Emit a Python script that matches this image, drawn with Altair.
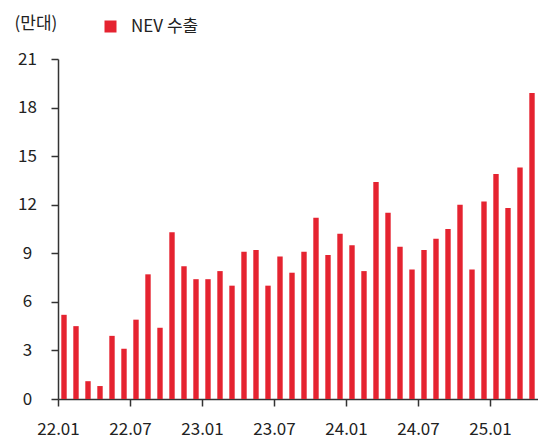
import altair as alt
import pandas as pd

months = [f"{y}.{m:02d}" for y in (22, 23, 24) for m in range(1, 13)] + ["25.01", "25.02", "25.03", "25.04"]
values = [5.2, 4.5, 1.1, 0.8, 3.9, 3.1, 4.9, 7.7, 4.4, 10.3, 8.2, 7.4,
          7.4, 7.9, 7.0, 9.1, 9.2, 7.0, 8.8, 7.8, 9.1, 11.2, 8.9, 10.2,
          9.5, 7.9, 13.4, 11.5, 9.4, 8.0, 9.2, 9.9, 10.5, 12.0, 8.0, 12.2,
          13.9, 11.8, 14.3, 18.9]
tick_labels = ["22.01", "22.07", "23.01", "23.07", "24.01", "24.07", "25.01"]
y_ticks = [0, 3, 6, 9, 12, 15, 18, 21]
series = "NEV 수출"

df = pd.DataFrame({"month": months, "value": values, "series": series})

FONT = "Noto Sans CJK KR"
AX = "#333333"

chart = alt.Chart(df).mark_bar(width=alt.RelativeBandSize(0.45)).encode(
    x=alt.X("month:O", sort=months,
            scale=alt.Scale(paddingInner=0, paddingOuter=0),
            axis=alt.Axis(values=tick_labels, title=None, labelAngle=0,
                          tickOffset=-6, tickSize=7, tickWidth=1.5, tickColor=AX,
                          domainColor=AX, domainWidth=1.5,
                          labelFont=FONT, labelFontSize=17, labelColor="#222222",
                          labelPadding=15)),
    y=alt.Y("value:Q", scale=alt.Scale(domain=[0, 21], nice=False),
            axis=alt.Axis(values=y_ticks, grid=False, title="(만대)",
                          titleAngle=0, titleAlign="left", titleBaseline="top",
                          titleX=-44, titleY=-44, titleFont=FONT, titleFontSize=17,
                          titleFontWeight="normal", titleColor="#222222",
                          tickSize=7, tickWidth=1.5, tickColor=AX,
                          domainColor=AX, domainWidth=1.5,
                          labelFont=FONT, labelFontSize=17, labelColor="#222222",
                          labelAlign="center", labelBaseline="middle", labelPadding=24)),
    color=alt.Color("series:N", scale=alt.Scale(range=["#E52330"]),
                    legend=alt.Legend(title=None, orient="none", legendX=44, legendY=-41,
                                      symbolType="square", symbolSize=144,
                                      symbolStrokeWidth=0, padding=0,
                                      labelFont=FONT, labelFontSize=17, labelColor="#222222",
                                      labelOffset=12)),
).properties(
    width=480, height=340,
    autosize=alt.AutoSizeParams(type="none"),
    padding={"left": 50, "top": 51, "right": 0, "bottom": 44},
).configure_view(stroke=None)

chart.save("out.html", embed_options={"renderer": "svg", "actions": False})
